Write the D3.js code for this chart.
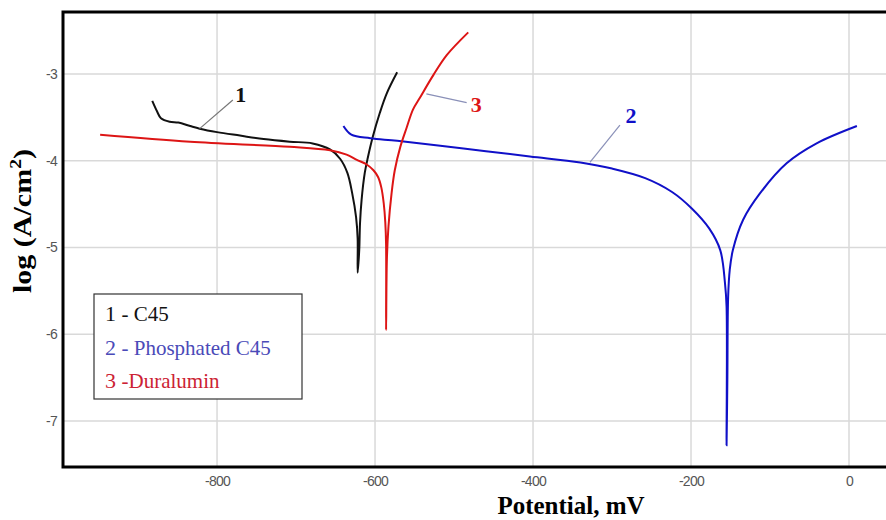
<!DOCTYPE html>
<html>
<head>
<meta charset="utf-8">
<script src="https://cdn.jsdelivr.net/npm/d3@7"></script>
<style>
  body { margin: 0; background: #fff; }
  svg { display: block; }
  .serif { font-family: "Liberation Serif", "Times New Roman", serif; }
</style>
</head>
<body>
<script>
// Polarization curves (potential mV, log current)
const xTicks = [-800, -600, -400, -200, 0];
const yTicks = [-3, -4, -5, -6, -7];
const seriesNames = ["C45", "Phosphated C45", "Duralumin"];

const c45 = [
  [-882, -3.31], [-876, -3.43], [-871, -3.51], [-860, -3.55], [-849, -3.56],
  [-834, -3.60], [-822, -3.63], [-800, -3.67], [-771, -3.71], [-741, -3.75],
  [-708, -3.78], [-679, -3.80], [-657, -3.87], [-644, -3.98], [-635, -4.14],
  [-629, -4.37], [-624, -4.65], [-622, -4.90], [-622, -5.29],
  [-620, -5.03], [-619, -4.72], [-617, -4.45], [-613, -4.14], [-609, -3.96],
  [-603, -3.73], [-594, -3.45], [-585, -3.22], [-572, -2.98]
];

const phosphated = [
  [-640, -3.60], [-630, -3.70], [-606, -3.74], [-572, -3.77], [-488, -3.86],
  [-404, -3.95], [-340, -4.02], [-300, -4.09], [-258, -4.20], [-224, -4.36],
  [-199, -4.55], [-177, -4.78], [-163, -5.03], [-157, -5.41], [-155, -5.68],
  [-155, -7.28],
  [-154, -6.53], [-153, -5.57], [-151, -5.26], [-147, -5.03], [-134, -4.68],
  [-113, -4.38], [-79, -4.03], [-41, -3.80], [10, -3.60]
];

const duralumin = [
  [-948, -3.70], [-834, -3.78], [-708, -3.84], [-657, -3.88], [-636, -3.93],
  [-623, -3.99], [-611, -4.04], [-602, -4.11], [-596, -4.19], [-592, -4.31],
  [-589, -4.49], [-587, -4.71], [-586, -4.97], [-586, -5.95],
  [-585, -5.14], [-583, -4.76], [-579, -4.37], [-575, -4.11], [-568, -3.84],
  [-560, -3.62], [-552, -3.41], [-543, -3.27], [-526, -3.01], [-509, -2.78],
  [-482, -2.52]
];

// curve numbers with their leader lines (data coordinates)
const curveLabels = [
  {text: "1", at: [-770, -3.27], from: [-822, -3.63], to: [-780, -3.30]},
  {text: "2", at: [-276, -3.51], from: [-328, -4.02], to: [-290, -3.59]},
  {text: "3", at: [-472, -3.38], from: [-535, -3.23], to: [-484, -3.33]}
];

const width = 886, height = 520;
const colors = ["#111111", "#1010c8", "#dd1515"];
const legendColors = ["#111111", "#4a4ab8", "#cc2233"];

const svg = d3.select("body").append("svg")
  .attr("width", width)
  .attr("height", height);

const x = d3.scaleLinear().domain([-995, 0]).range([63, 849]);
const y = d3.scaleLinear().domain([-3, -7]).range([74, 421]);
const plotTop = 12, plotBottom = 467, plotLeft = 63;

// grid
svg.append("g")
  .selectAll("line")
  .data(xTicks)
  .join("line")
  .attr("x1", d => x(d)).attr("x2", d => x(d))
  .attr("y1", plotTop).attr("y2", plotBottom)
  .attr("stroke", "#d9d9d9").attr("stroke-width", 1.5);

svg.append("g")
  .selectAll("line")
  .data(yTicks)
  .join("line")
  .attr("x1", plotLeft).attr("x2", width)
  .attr("y1", d => y(d)).attr("y2", d => y(d))
  .attr("stroke", "#d9d9d9").attr("stroke-width", 1.5);

// tick labels
const xAxis = svg.append("g")
  .attr("transform", `translate(0,${plotBottom})`)
  .call(d3.axisBottom(x).tickValues(xTicks).tickFormat(d => String(d)).tickSize(0).tickPadding(9));
xAxis.select(".domain").remove();
const yAxis = svg.append("g")
  .attr("transform", `translate(${plotLeft},0)`)
  .call(d3.axisLeft(y).tickValues(yTicks).tickFormat(d => String(d)).tickSize(0).tickPadding(6));
yAxis.select(".domain").remove();
svg.selectAll(".tick text")
  .attr("font-family", "Liberation Sans, Arial, sans-serif")
  .attr("font-size", 14)
  .attr("letter-spacing", -0.7)
  .attr("fill", "#555");

// curves
const line = d3.line()
  .x(d => x(d[0]))
  .y(d => y(d[1]))
  .curve(d3.curveCatmullRom.alpha(0.5));

[c45, phosphated, duralumin].forEach((s, i) => {
  svg.append("path")
    .attr("d", line(s))
    .attr("fill", "none")
    .attr("stroke", colors[i])
    .attr("stroke-width", 2);
});

// curve numbers
curveLabels.forEach((c, i) => {
  svg.append("line")
    .attr("x1", x(c.from[0])).attr("y1", y(c.from[1]))
    .attr("x2", x(c.to[0])).attr("y2", y(c.to[1]))
    .attr("stroke", i === 0 ? "#777" : "#8a90b8")
    .attr("stroke-width", 1.2);
  svg.append("text")
    .attr("class", "serif")
    .attr("x", x(c.at[0])).attr("y", y(c.at[1]))
    .attr("text-anchor", "middle")
    .attr("dominant-baseline", "middle")
    .attr("font-weight", "bold")
    .attr("font-size", 22)
    .attr("fill", colors[i])
    .text(c.text);
});

// frame (right side runs off the picture)
svg.append("path")
  .attr("d", `M${width + 5},${plotTop} H${plotLeft} V${plotBottom} H${width + 5}`)
  .attr("fill", "none")
  .attr("stroke", "#000")
  .attr("stroke-width", 3);

// legend
const lg = svg.append("g");
lg.append("rect")
  .attr("x", 94).attr("y", 294)
  .attr("width", 208).attr("height", 105)
  .attr("fill", "#fff")
  .attr("stroke", "#333").attr("stroke-width", 1.2);

seriesNames.forEach((name, i) => {
  const row = lg.append("text")
    .attr("class", "serif")
    .attr("x", 105)
    .attr("y", 321 + i * 33.5)
    .attr("fill", legendColors[i]);
  row.append("tspan").attr("font-size", 22).text(`${i + 1} `);
  row.append("tspan").attr("font-size", 21)
    .text(i === 2 ? "-" + name : "- " + name);
});

// axis titles
svg.append("text")
  .attr("class", "serif")
  .attr("x", 571).attr("y", 514)
  .attr("text-anchor", "middle")
  .attr("font-weight", "bold")
  .attr("font-size", 25)
  .text("Potential, mV");

const yt = svg.append("text")
  .attr("class", "serif")
  .attr("transform", "translate(31,221) rotate(-90)")
  .attr("text-anchor", "middle")
  .attr("font-weight", "bold")
  .attr("font-size", 26)
  .attr("textLength", 144)
  .attr("lengthAdjust", "spacingAndGlyphs");
yt.append("tspan").text("log (A/cm");
yt.append("tspan").attr("font-size", 17).attr("dy", -10).text("2");
yt.append("tspan").attr("dy", 10).text(")");
</script>
</body>
</html>
